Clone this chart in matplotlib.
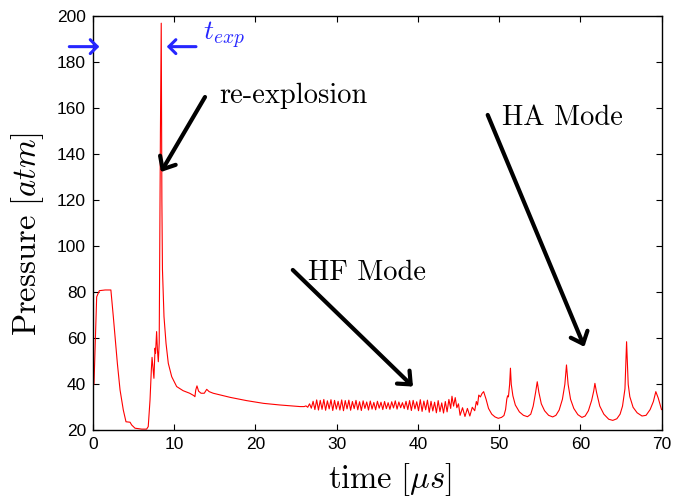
import matplotlib
matplotlib.use("Agg")
import matplotlib.pyplot as plt

plt.rcParams['mathtext.fontset'] = 'cm'
plt.rcParams['axes.unicode_minus'] = False

# ---- data ----
t_early = [0.0, 0.12, 0.45, 0.78, 1.5, 2.2, 2.5, 2.71, 3.0, 3.33, 3.73, 4.06, 4.56, 4.76,
           5.17, 6.0, 6.6, 6.8, 7.02, 7.18, 7.27, 7.43, 7.5, 7.64, 7.7, 7.83, 7.93, 8.04,
           8.15, 8.3, 8.4, 8.48, 8.55, 8.74, 8.99, 9.27, 9.69, 10.3, 11.1, 11.9, 12.4,
           12.55, 12.65, 12.8, 13.0, 13.3, 13.7, 14.0, 14.3, 14.8, 16.9, 18.9, 21.0,
           23.0, 25.5]
p_early = [39.7, 40.0, 78.0, 80.7, 81.0, 81.0, 69.4, 60.7, 49.0, 37.5, 28.8, 23.7, 23.5, 22.3,
           20.9, 20.5, 20.5, 21.6, 33.2, 46.2, 51.7, 45.0, 42.6, 55.7, 53.5, 62.9, 55.0, 49.8,
           58.0, 150.0, 197.0, 120.0, 90.0, 69.4, 57.8, 49.1, 43.3, 39.0, 37.2, 36.1, 35.1,
           34.6, 37.5, 39.3, 37.0, 36.1, 36.1, 37.8, 36.8, 36.1, 34.3, 32.9, 31.7,
           31.0, 30.3]

t_hf = [26.00, 26.22, 26.44, 26.66, 26.88, 27.10, 27.32, 27.54, 27.76, 27.98, 28.20, 28.42,
        28.64, 28.86, 29.08, 29.30, 29.52, 29.74, 29.96, 30.18, 30.40, 30.62, 30.84, 31.06,
        31.28, 31.50, 31.72, 31.94, 32.16, 32.38, 32.60, 32.82, 33.04, 33.26, 33.48, 33.70,
        33.92, 34.14, 34.36, 34.58, 34.80, 35.02, 35.24, 35.46, 35.68, 35.90, 36.12, 36.34,
        36.56, 36.78, 37.00, 37.22, 37.44, 37.66, 37.88, 38.10, 38.32, 38.54, 38.76, 38.98,
        39.20, 39.42, 39.64, 39.86, 40.08, 40.30, 40.52, 40.74, 40.96, 41.18, 41.40, 41.62,
        41.84, 42.06, 42.28, 42.50, 42.72, 42.94, 43.16, 43.38, 43.60, 43.82, 44.04,
        44.2, 44.4, 44.6, 44.8, 45.0, 45.2, 45.5, 45.8, 46.1, 46.4, 46.7, 47.0, 47.2,
        47.35, 47.5, 47.7, 47.9]
p_hf = [30.3, 30.6, 30.0, 31.5, 29.6, 32.6, 29.0, 33.2, 28.8, 33.0, 29.1, 33.4,
        28.7, 32.8, 29.3, 33.3, 28.6, 33.0, 29.2, 32.6, 28.8, 33.2, 28.5, 32.9,
        29.3, 33.1, 28.7, 32.5, 29.4, 33.0, 28.9, 32.4, 28.6, 32.8, 29.5, 32.3,
        28.8, 32.7, 29.2, 32.1, 28.9, 32.6, 29.6, 32.2, 29.0, 32.5, 29.4, 32.0,
        29.1, 32.4, 29.7, 32.8, 29.2, 32.3, 29.8, 32.0, 29.4, 32.6, 29.0, 32.9,
        28.6, 33.0, 29.3, 32.4, 28.5, 33.3, 28.2, 32.7, 28.9, 33.1, 27.8, 32.6,
        28.4, 32.2, 27.6, 32.9, 28.1, 31.9, 27.5, 32.5, 28.0, 33.4, 29.5,
        34.8, 30.5, 34.2, 29.8, 31.5, 26.5, 29.8, 26.0, 29.5, 26.2, 30.0, 28.5, 32.5,
        31.0, 35.3, 34.5, 36.0]

t_ha = [48.1, 48.4, 48.7, 49.1, 49.5, 49.9, 50.3, 50.6, 50.8, 50.95, 51.05, 51.15, 51.3,
        51.4, 51.5, 51.7, 52.0, 52.5, 53.0, 53.5, 53.9, 54.2, 54.5, 54.7, 54.9, 55.2, 55.6,
        56.1, 56.6, 57.0, 57.4, 57.8, 58.1, 58.3, 58.5, 58.8, 59.2, 59.7, 60.2, 60.6, 61.0,
        61.4, 61.65, 61.8, 62.0, 62.4, 62.9, 63.5, 64.0, 64.5, 64.9, 65.2, 65.5, 65.7, 65.9,
        66.1, 66.5, 67.0, 67.6, 68.1, 68.6, 69.0, 69.3, 69.6, 70.0]
p_ha = [36.8, 33.5, 29.5, 27.0, 25.8, 25.2, 25.6, 26.4, 29.0, 33.5, 35.0, 34.5, 40.0,
        47.0, 40.0, 35.0, 31.0, 28.0, 26.5, 25.9, 27.0, 30.5, 36.5, 41.1, 36.5, 31.5, 28.5,
        26.5, 25.8, 26.5, 28.8, 33.5, 40.0, 48.4, 40.0, 33.5, 29.5, 26.8, 25.6, 26.2, 28.5,
        33.0, 37.0, 40.4, 36.5, 30.5, 27.0, 24.8, 24.3, 25.0, 27.0, 30.5, 38.0, 58.5, 40.0,
        34.6, 30.0, 27.6, 26.2, 26.5, 29.0, 32.5, 36.8, 34.0, 29.0]

x_ticks = [0, 10, 20, 30, 40, 50, 60, 70]
y_ticks = [20, 40, 60, 80, 100, 120, 140, 160, 180, 200]

t_all = t_early + t_hf + t_ha
p_all = p_early + p_hf + p_ha

# ---- figure ----
fig = plt.figure(figsize=(6.75, 4.98), dpi=100)
ax = fig.add_axes([0.1378, 0.136, 0.8422, 0.8313])
ax.plot(t_all, p_all, color='red', lw=0.8)
ax.set_xlim(0, 70)
ax.set_ylim(20, 200)
ax.set_xticks(x_ticks)
ax.set_yticks(y_ticks)
ax.tick_params(direction='in', top=True, right=True, length=4, width=0.8,
               labelsize=12.5, pad=5)
for lab in ax.get_xticklabels() + ax.get_yticklabels():
    lab.set_fontfamily('Liberation Sans')
for s in ax.spines.values():
    s.set_linewidth(1.0)

ax.set_xlabel(r'$\mathrm{time}\ [\mu s]$', fontsize=23.5)
ax.set_ylabel(r'$\mathrm{Pressure}\ [atm]$', fontsize=23.5)
ax.xaxis.set_label_coords(0.522, -0.074)
ax.yaxis.set_label_coords(-0.083, 0.475)

# black arrows
kw = dict(arrowstyle='->,head_length=0.75,head_width=0.65', color='black', lw=3,
          shrinkA=0, shrinkB=0, mutation_scale=10)
ax.annotate('', xy=(8.37, 132.3), xytext=(13.79, 164.9), arrowprops=kw)
ax.annotate('', xy=(39.4, 39.0), xytext=(24.6, 89.7), arrowprops=kw)
ax.annotate('', xy=(60.5, 56.3), xytext=(48.6, 157.1), arrowprops=kw)

ax.text(15.5, 162.2, 're-explosion', fontfamily='cmr10', fontsize=20.5, va='baseline')
ax.text(26.5, 85.3, 'HF Mode', fontfamily='cmr10', fontsize=20.5, va='baseline')
ax.text(50.3, 152.7, 'HA Mode', fontfamily='cmr10', fontsize=20.5, va='baseline')

# blue arrows for t_exp
blue = (0.15, 0.15, 1.0)
bkw = dict(arrowstyle='->,head_length=0.5,head_width=0.5', color=blue, lw=2.2,
           shrinkA=0, shrinkB=0, mutation_scale=10)
ax.annotate('', xy=(0.78, 186.8), xytext=(-2.92, 186.8), arrowprops=bkw,
            annotation_clip=False)
ax.annotate('', xy=(9.08, 186.8), xytext=(12.68, 186.8), arrowprops=bkw,
            annotation_clip=False)
ax.text(13.5, 185.0, r'$t_{exp}$', color=blue, fontsize=20, va='bottom')

fig.savefig('out.png', dpi=100)
